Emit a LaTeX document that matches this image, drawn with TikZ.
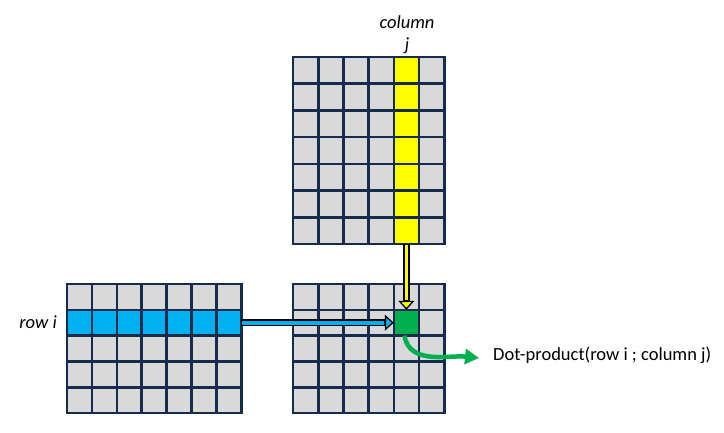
\documentclass[tikz,border=0pt]{standalone}
\usepackage{fontspec}
\setmainfont{Carlito}
\usepackage{xcolor}
\definecolor{GridLine}{HTML}{172B4D}
\definecolor{CellGray}{HTML}{D9D9D9}
\definecolor{RowBlue}{HTML}{00B0F0}
\definecolor{ColYellow}{HTML}{FFFF00}
\definecolor{DotGreen}{HTML}{00B050}
\usetikzlibrary{arrows.meta}

\begin{document}
\begin{tikzpicture}[x=1pt, y=-1pt,
  cell/.style={rectangle, draw=GridLine, line width=2.6pt, inner sep=0pt, outer sep=0pt},
  lbl/.style={font=\fontsize{18.5}{22}\selectfont, inner sep=3pt},
  outline/.style={black, line width=7pt},
  greenarr/.style={DotGreen, line width=4.5pt, -{Triangle[length=14pt, width=15pt]}}
]
\useasboundingbox (0,0) rectangle (724,432);

%% ---- Matrix B: top, 7 rows x 6 cols, column j in yellow ----
\foreach \r in {1,...,7}
  \foreach \c in {1,...,6} {
    \ifnum\c=5 \def\cf{ColYellow}\else \def\cf{CellGray}\fi
    \node[cell, fill=\cf, minimum width=25.2pt, minimum height=26.7pt]
      (B-\r-\c) at (293+25.2*\c-12.6, 57+26.7*\r-13.35) {};
  }

%% ---- Matrix A: bottom left, 5 rows x 7 cols, row i in blue ----
\foreach \r in {1,...,5}
  \foreach \c in {1,...,7} {
    \ifnum\r=2 \def\cf{RowBlue}\else \def\cf{CellGray}\fi
    \node[cell, fill=\cf, minimum width=24.9pt, minimum height=25.8pt]
      (A-\r-\c) at (67+24.9*\c-12.45, 284+25.8*\r-12.9) {};
  }

%% ---- Matrix C: bottom right, 5 rows x 6 cols ----
\foreach \r in {1,...,5}
  \foreach \c in {1,...,6}
    \node[cell, fill=CellGray, minimum width=25.2pt, minimum height=25.8pt]
      (C-\r-\c) at (293+25.2*\c-12.6, 284+25.8*\r-12.9) {};
\node[cell, fill=DotGreen, minimum width=25.2pt, minimum height=25.8pt]
  (dot) at (C-2-5) {};

%% ---- Labels ----
\node[lbl, align=center, font=\fontsize{18.5}{22}\selectfont\itshape] (collabel) at (407,35) {column\\j};
\node[lbl, anchor=east, font=\fontsize{18.5}{22}\selectfont\itshape] (rowlabel) at (60,322) {row i};
\node[lbl, anchor=west] (dotlabel) at (490,355) {Dot-product(row i ; column j)};

%% ---- Column j into the result cell ----
\draw[outline, -{Triangle[fill=ColYellow, line width=1.3pt, length=9pt, width=16pt]}]
  (B-7-5.south) -- (dot.north);
\draw[ColYellow, line width=3.8pt, shorten <=1pt, shorten >=9.5pt] (B-7-5.south) -- (dot.north);

%% ---- Row i into the result cell ----
\draw[outline, -{Triangle[fill=RowBlue, line width=1.3pt, length=9pt, width=16pt]}]
  (A-2-7.east) -- (dot.west);
\draw[RowBlue, line width=3.8pt, shorten <=1pt, shorten >=9.5pt] (A-2-7.east) -- (dot.west);

%% ---- Result to its label ----
\draw[greenarr] ([xshift=-2pt]dot.south) to[out=-80, in=174] ([xshift=-11pt, yshift=-3pt]dotlabel.west);

\end{tikzpicture}
\end{document}
